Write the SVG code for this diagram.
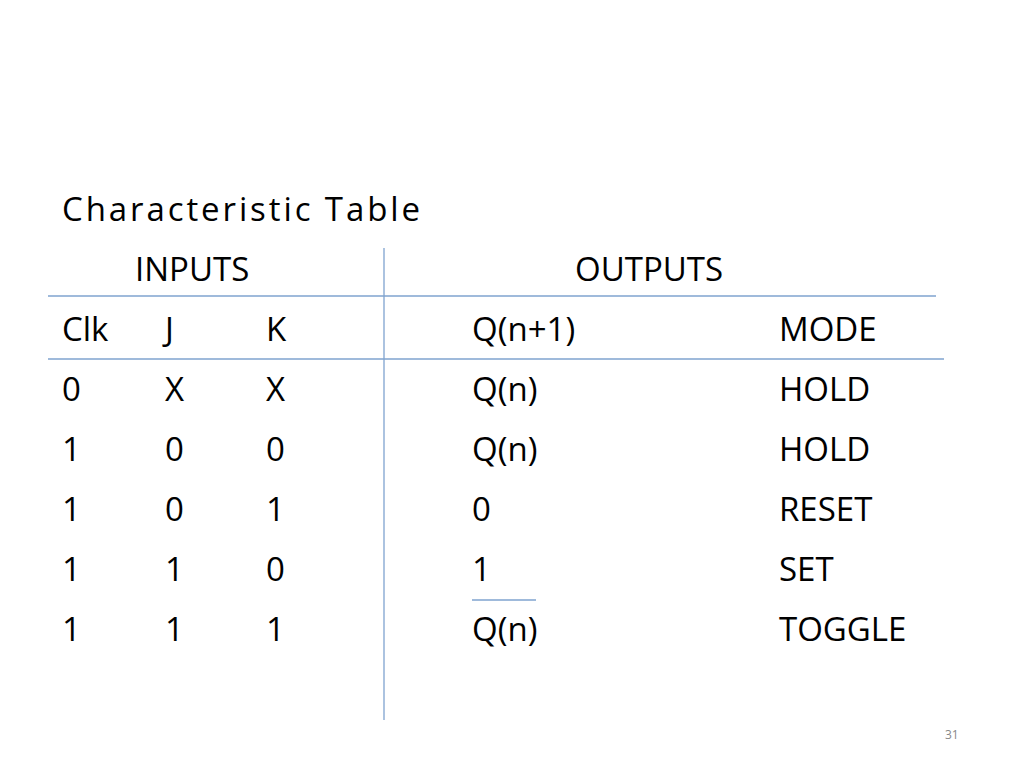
<svg xmlns="http://www.w3.org/2000/svg" width="1024" height="768" viewBox="0 0 1024 768">
<style>
text{font-family:"Open Sans","Liberation Sans",sans-serif;font-size:33px;fill:#000}
.l{stroke:#7fa3cf;stroke-width:1.3}
</style>
<rect width="1024" height="768" fill="#fff"/>
<g id="lines">
<line class="l" x1="384" y1="248" x2="384" y2="720"/>
<line class="l" x1="48" y1="296" x2="936" y2="296"/>
<line class="l" x1="48" y1="359" x2="944" y2="359"/>
<line class="l" x1="472" y1="600" x2="536" y2="600"/>
</g>
<g id="text">
<text x="62" y="221" textLength="358">Characteristic Table</text>
<text x="135" y="281">INPUTS</text>
<text x="575" y="281">OUTPUTS</text>
<text x="62" y="341">Clk</text><text x="165" y="341">J</text><text x="266" y="341">K</text><text x="472" y="341">Q(n+1)</text><text x="779" y="341">MODE</text>
<text x="62" y="401">0</text><text x="165" y="401">X</text><text x="266" y="401">X</text><text x="472" y="401">Q(n)</text><text x="779" y="401">HOLD</text>
<text x="62" y="461">1</text><text x="165" y="461">0</text><text x="266" y="461">0</text><text x="472" y="461">Q(n)</text><text x="779" y="461">HOLD</text>
<text x="62" y="521">1</text><text x="165" y="521">0</text><text x="266" y="521">1</text><text x="472" y="521">0</text><text x="779" y="521">RESET</text>
<text x="62" y="581">1</text><text x="165" y="581">1</text><text x="266" y="581">0</text><text x="472" y="581">1</text><text x="779" y="581">SET</text>
<text x="62" y="641">1</text><text x="165" y="641">1</text><text x="266" y="641">1</text><text x="472" y="641">Q(n)</text><text x="779" y="641">TOGGLE</text>
<text x="945" y="739" style="font-size:12px;fill:#888">31</text>
</g>
</svg>
